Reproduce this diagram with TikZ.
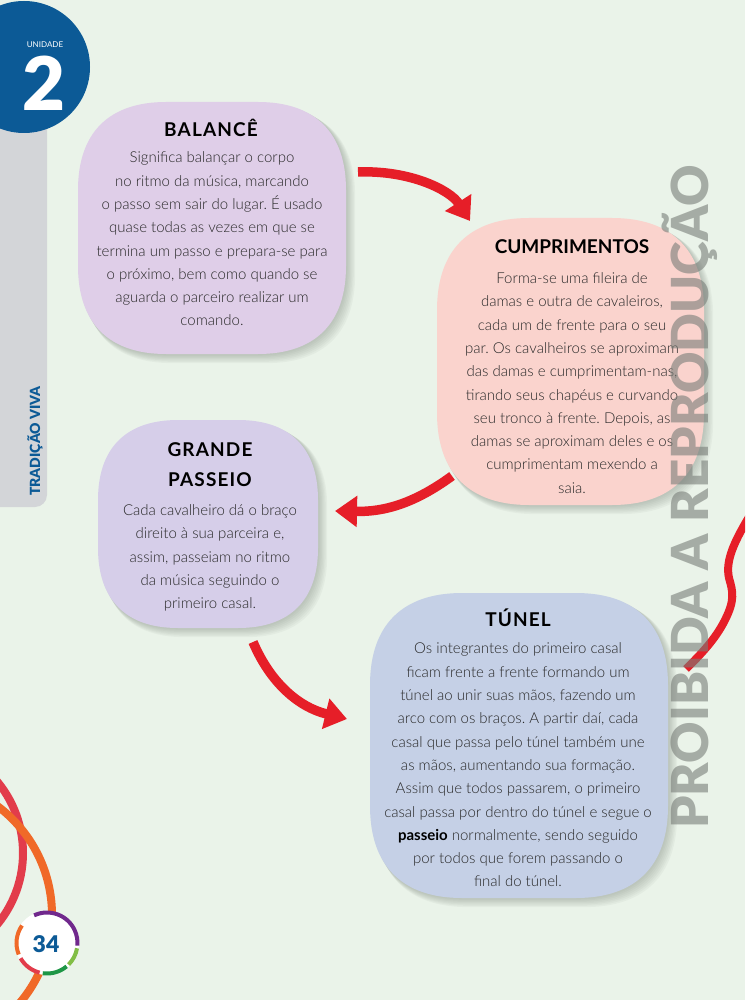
\documentclass[tikz,border=0pt]{standalone}
\usepackage{fontspec}
\setmainfont{Lato}
\newfontfamily\bodyfont{Lato}[UprightFont={* Light}, BoldFont={* Bold}]
\newfontfamily\heavyfont{Lato Black}
\usetikzlibrary{arrows.meta}
\frenchspacing

\definecolor{pagebg}{RGB}{234,243,233}
\definecolor{unitblue}{RGB}{12,90,150}
\definecolor{sidegray}{RGB}{211,213,216}
\definecolor{balbox}{RGB}{223,206,232}
\definecolor{cumbox}{RGB}{250,211,205}
\definecolor{grabox}{RGB}{214,206,233}
\definecolor{tunbox}{RGB}{197,208,230}
\definecolor{arrred}{RGB}{230,30,40}
\definecolor{bodytxt}{RGB}{40,40,40}
\definecolor{wmgray}{RGB}{120,125,120}
\definecolor{shadowgray}{RGB}{110,120,110}
\definecolor{ringred}{RGB}{226,60,75}
\definecolor{ringorange}{RGB}{240,105,40}
\definecolor{ringpurple}{RGB}{112,40,140}
\definecolor{ringgreen}{RGB}{30,150,70}
\definecolor{ringlime}{RGB}{130,190,70}

\tikzset{
  % squircle-like outline: x1, y1, x2, y2, corner size
  blob/.style n args={5}{insert path={
    ({#1+#5},#2) -- ({#3-#5},#2)
      .. controls ({#3-0.35*#5},#2) and (#3,{#2+0.35*#5}) .. (#3,{#2+#5})
      -- (#3,{#4-#5})
      .. controls (#3,{#4-0.35*#5}) and ({#3-0.35*#5},#4) .. ({#3-#5},#4)
      -- ({#1+#5},#4)
      .. controls ({#1+0.35*#5},#4) and (#1,{#4-0.35*#5}) .. (#1,{#4-#5})
      -- (#1,{#2+#5})
      .. controls (#1,{#2+0.35*#5}) and ({#1+0.35*#5},#2) .. ({#1+#5},#2)
      -- cycle}},
  body/.style={align=center, text=bodytxt, inner sep=0pt,
    font=\bodyfont\fontsize{15}{23.3}\selectfont},
  heading/.style={align=center, text=black, inner sep=0pt,
    font=\fontsize{19}{30}\selectfont\bfseries\addfontfeature{LetterSpace=6}},
  flow/.style={arrred, line width=9.5pt,
    -{Triangle[width=30pt,length=22pt]}},
}

% a coloured card with a soft shadow to the lower right
\newcommand{\card}[6]{%
  \foreach \k in {1,...,7}{
    \fill[shadowgray, opacity=0.06, blob={#1+\k*0.8}{#2+\k*0.8}{#3+\k*1.3}{#4+\k*1.3}{#5}];
  }
  \fill[#6, blob={#1}{#2}{#3}{#4}{#5}];
}

\begin{document}
\begin{tikzpicture}[x=1pt,y=-1pt]
\useasboundingbox (0,0) rectangle (745,1000);
\clip (0,0) rectangle (745,1000);
\fill[pagebg] (0,0) rectangle (745,1000);

% side tab and unit badge
\fill[sidegray, rounded corners=12pt] (-20,80) -- (47,80) -- (47,507) -- (-20,507) -- cycle;
\node[rotate=90, text=unitblue, inner sep=0pt,
  font=\heavyfont\fontsize{14}{14}\selectfont] (tab) at (35,441) {TRADIÇÃO VIVA};
\fill[unitblue] (24,67) circle[radius=66];
\node[text=white, inner sep=0pt, font=\fontsize{8}{8}\selectfont] (unitlabel) at (45,45) {UNIDADE};
\node[text=white, inner sep=0pt, font=\heavyfont\fontsize{74}{74}\selectfont] (unitnum) at (44,83) {2};

% decorative rings, lower left
\draw[ringred, line width=8pt] (-89,853) circle[radius=112];
\draw[ringorange, line width=8pt] (-84,915) circle[radius=136];

% page number
\fill[white] (47,943) circle[radius=32];
\draw[ringpurple, line width=4pt] (47,943) ++(-115:30.5) arc[start angle=-115, end angle=5, radius=30.5];
\draw[ringlime, line width=4pt] (47,943) ++(10:30.5) arc[start angle=10, end angle=45, radius=30.5];
\draw[ringgreen, line width=4pt] (47,943) ++(50:30.5) arc[start angle=50, end angle=98, radius=30.5];
\draw[ringred, line width=4pt] (47,943) ++(104:30.5) arc[start angle=104, end angle=150, radius=30.5];
\draw[ringorange, line width=4pt] (47,943) ++(158:30.5) arc[start angle=158, end angle=215, radius=30.5];
\node[text=unitblue, inner sep=0pt, font=\heavyfont\fontsize{23}{23}\selectfont] (pagenum) at (46,944) {34};

% cards
\card{78}{102}{346}{354}{88}{balbox}
\card{437}{218}{704}{505}{92}{cumbox}
\card{98}{420}{318}{628}{80}{grabox}
\card{370}{593}{668}{898}{92}{tunbox}

% card texts
\node[heading] (balT) at (211,128) {BALANCÊ};
\node[body] (balB) at (212,239) {Significa balançar o corpo\\no ritmo da música, marcando\\o passo sem sair do lugar. É usado\\quase todas as vezes em que se\\termina um passo e prepara-se para\\o próximo, bem como quando se\\aguarda o parceiro realizar um\\comando.};

\node[heading, font=\fontsize{19}{30}\selectfont\bfseries] (cumT) at (572,247) {CUMPRIMENTOS};
\node[body] (cumB) at (572,383) {Forma-se uma fileira de\\damas e outra de cavaleiros,\\cada um de frente para o seu\\par. Os cavalheiros se aproximam\\das damas e cumprimentam-nas,\\tirando seus chapéus e curvando\\seu tronco à frente. Depois, as\\damas se aproximam deles e os\\cumprimentam mexendo a\\saia.};

\node[heading] (graT) at (210,465) {GRANDE\\PASSEIO};
\node[body] (graB) at (210,558) {Cada cavalheiro dá o braço\\direito à sua parceira e,\\assim, passeiam no ritmo\\da música seguindo o\\primeiro casal.};

\node[heading] (tunT) at (518,618) {TÚNEL};
\node[body] (tunB) at (518,765) {Os integrantes do primeiro casal\\ficam frente a frente formando um\\túnel ao unir suas mãos, fazendo um\\arco com os braços. A partir daí, cada\\casal que passa pelo túnel também une\\as mãos, aumentando sua formação.\\Assim que todos passarem, o primeiro\\casal passa por dentro do túnel e segue o\\\textbf{\color{black}passeio} normalmente, sendo seguido\\por todos que forem passando o\\final do túnel.};

% flow arrows between the cards
\coordinate (a1s) at (358,172);
\coordinate (a1e) at (470,221);
\coordinate (a2s) at (452,476);
\coordinate (a2e) at (335,511);
\coordinate (a3s) at (253,642);
\coordinate (a3e) at (347,719);
\draw[flow] (a1s) .. controls (410,170) and (450,190) .. (a1e);
\draw[flow] (a2s) .. controls (415,503) and (385,512) .. (a2e);
\draw[flow] (a3s) .. controls (270,682) and (298,707) .. (a3e);

% red ribbon at the right edge
\coordinate (rs) at (752,512);
\coordinate (re) at (686,669);
\draw[arrred, line width=8pt] (rs) .. controls (735,540) and (725,560) .. (729,578)
  .. controls (733,592) and (735,600) .. (725,620)
  .. controls (715,640) and (700,655) .. (re);

% watermark
\node[rotate=90, text=wmgray, opacity=0.6, inner sep=0pt,
  font=\heavyfont\fontsize{51}{51}\selectfont] (wm) at (690,497) {PROIBIDA A REPRODUÇÃO};
\end{tikzpicture}
\end{document}
